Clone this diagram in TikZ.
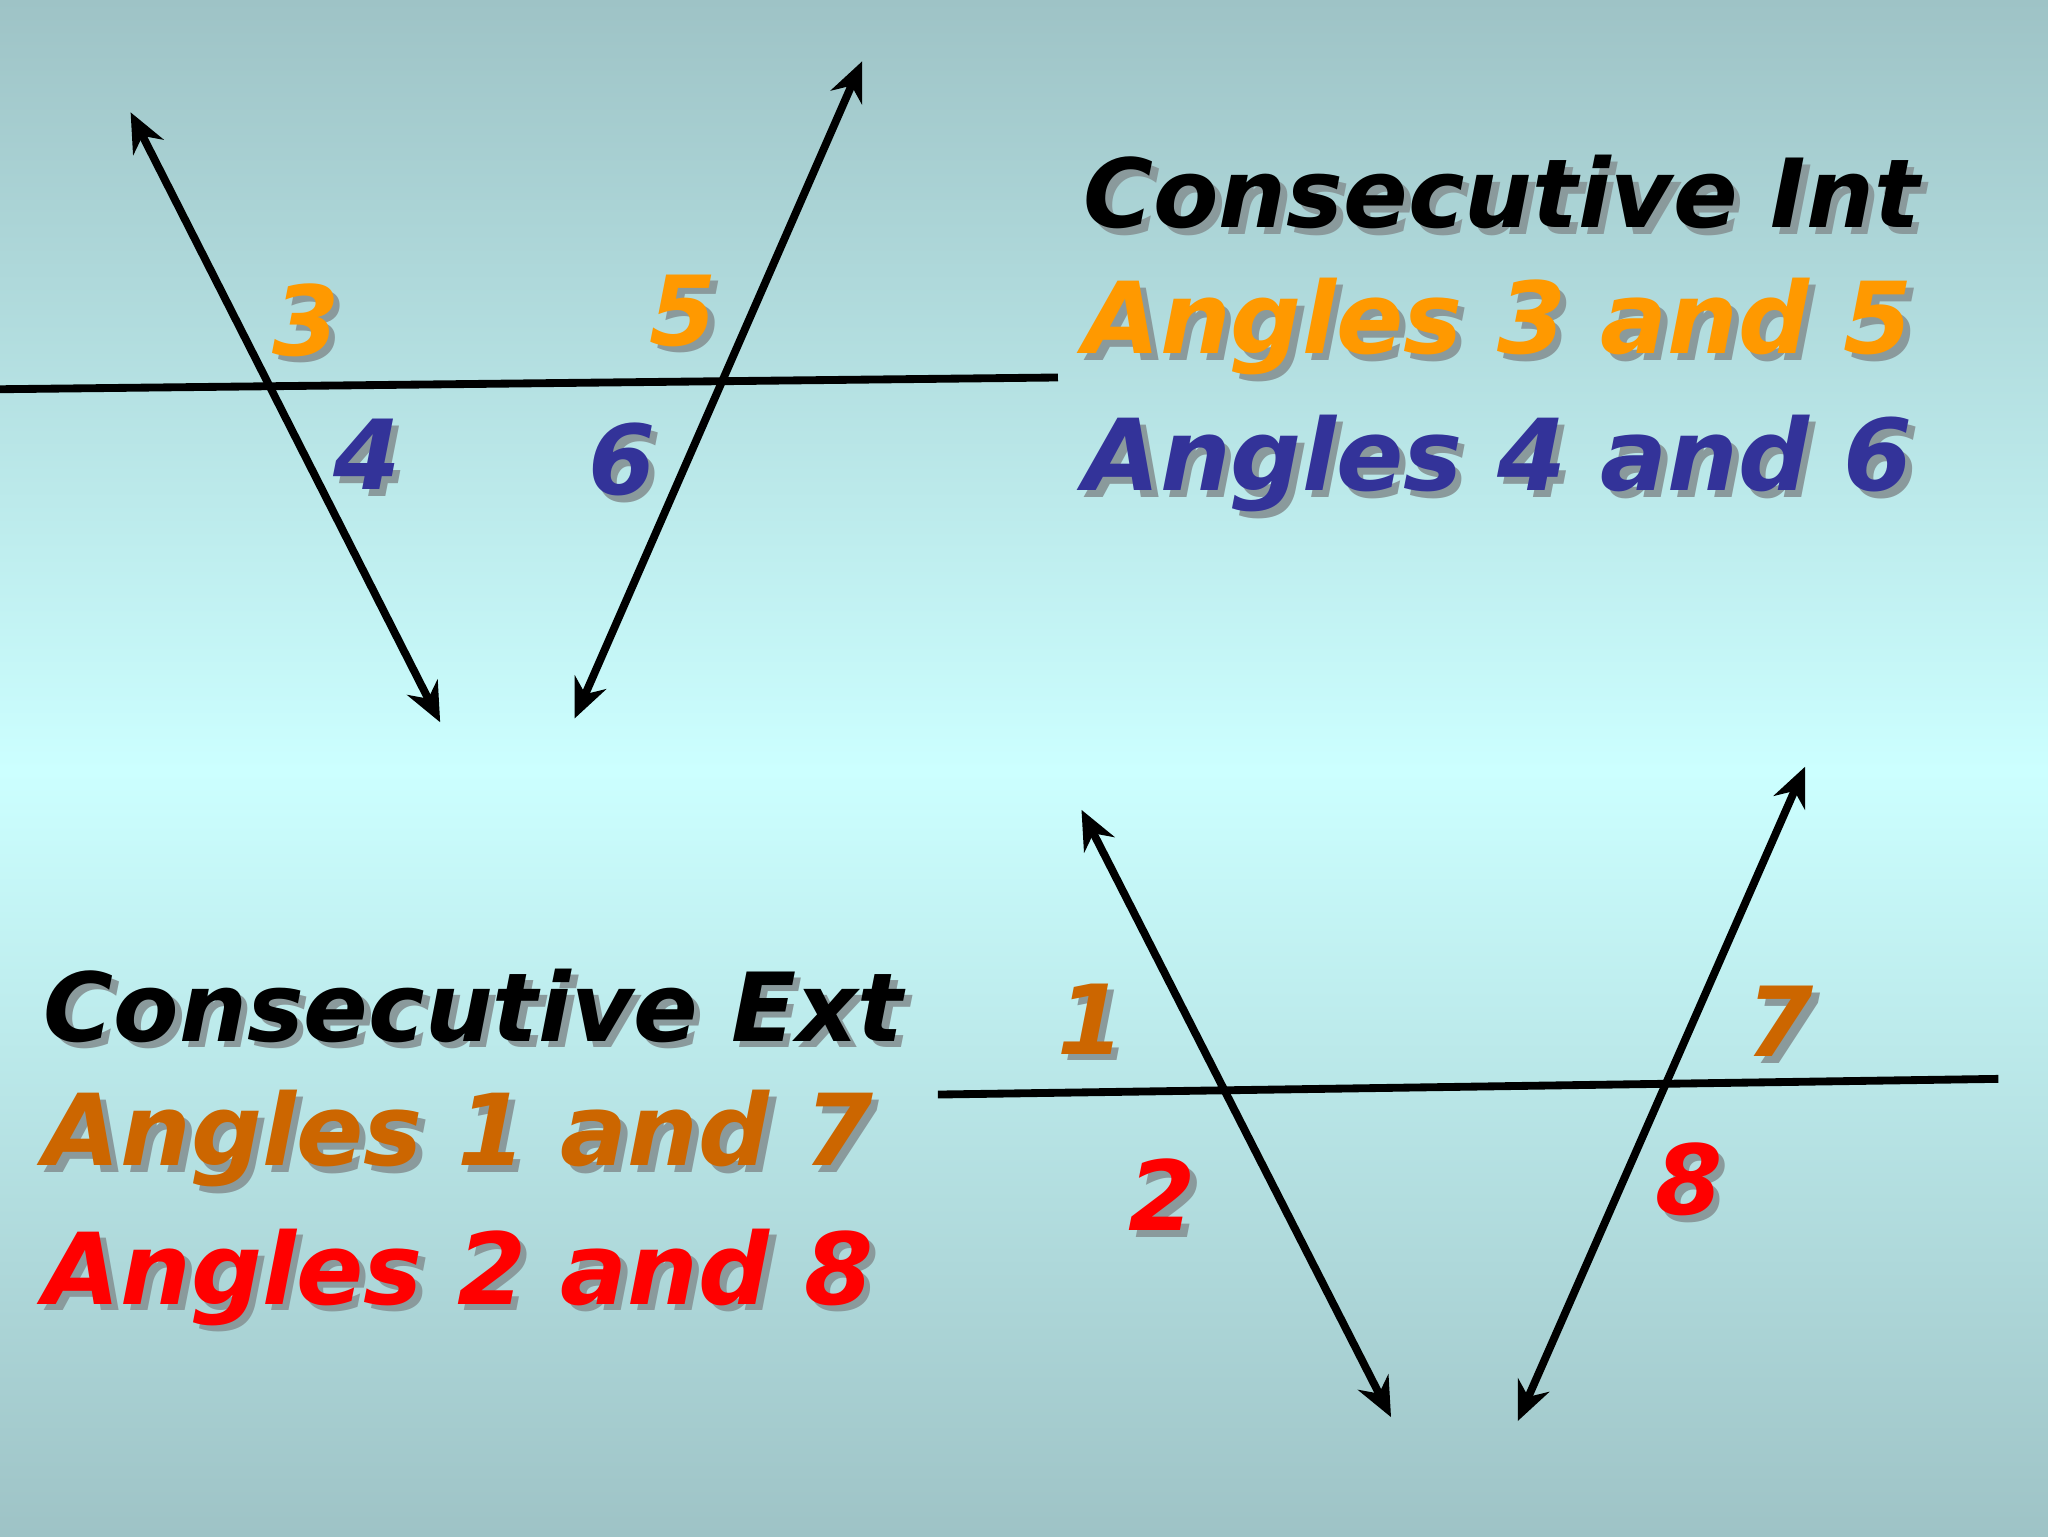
\documentclass[tikz,border=0pt]{standalone}
\usepackage{fontspec}
\setmainfont{DejaVu Sans}
\usetikzlibrary{arrows.meta}
\definecolor{bgedge}{HTML}{9EC3C6}
\definecolor{bgmid}{HTML}{CCFFFF}
\definecolor{orng}{HTML}{FF9900}
\definecolor{navy}{HTML}{333399}
\definecolor{brwn}{HTML}{CC6600}
\definecolor{rd}{HTML}{FF0000}
\definecolor{shd}{HTML}{8A9A9C}
\newcommand{\lbl}[6]{%
  \node[anchor=#6,text=shd,font=\fontsize{#4}{#4}\selectfont\bfseries\itshape] (#1s) at ([shift={(5,5)}]#2) {#5};
  \node[anchor=#6,text=#3,font=\fontsize{#4}{#4}\selectfont\bfseries\itshape] (#1) at (#2) {#5};}
\begin{document}
\begin{tikzpicture}[x=1pt,y=-1pt,
  ln/.style={line width=6pt,black},
  ar/.style={ln,{Stealth[length=30pt,width=26pt]}-{Stealth[length=30pt,width=26pt]}}]
\shade[top color=bgedge,bottom color=bgmid] (0,0) rectangle (1568,590);
\shade[top color=bgmid,bottom color=bgedge] (0,590) rectangle (1568,1176);
\useasboundingbox (0,0) rectangle (1568,1176);
% top figure
\coordinate (h1a) at (0,298); \coordinate (h1b) at (810,289);
\coordinate (a1) at (100,86); \coordinate (a2) at (337,553);
\coordinate (b1) at (660,47); \coordinate (b2) at (440,550);
\draw[ln] (h1a) -- (h1b);
\draw[ar] (a1) -- (a2);
\draw[ar] (b1) -- (b2);
% bottom figure
\coordinate (h2a) at (718,838); \coordinate (h2b) at (1530,826);
\coordinate (c1) at (828,620); \coordinate (c2) at (1065,1085);
\coordinate (d1) at (1382,587); \coordinate (d2) at (1162,1088);
\draw[ln] (h2a) -- (h2b);
\draw[ar] (c1) -- (c2);
\draw[ar] (d1) -- (d2);
% angle numbers
\lbl{n3}{234,245}{orng}{74}{3}{center}
\lbl{n5}{523,238}{orng}{74}{5}{center}
\lbl{n4}{281,348}{navy}{74}{4}{center}
\lbl{n6}{476,352}{navy}{74}{6}{center}
\lbl{n1}{835,780}{brwn}{74}{1}{center}
\lbl{n7}{1363,782}{brwn}{74}{7}{center}
\lbl{n2}{890,915}{rd}{74}{2}{center}
\lbl{n8}{1293,903}{rd}{74}{8}{center}
% text blocks
\lbl{t1}{826,147}{black}{73}{Consecutive Int}{west}
\lbl{t2}{826,250}{orng}{76}{Angles 3 and 5}{west}
\lbl{t3}{826,355}{navy}{76}{Angles 4 and 6}{west}
\lbl{t4}{30,770}{black}{73}{Consecutive Ext}{west}
\lbl{t5}{30,872}{brwn}{76}{Angles 1 and 7}{west}
\lbl{t6}{30,978}{rd}{76}{Angles 2 and 8}{west}
\end{tikzpicture}
\end{document}
